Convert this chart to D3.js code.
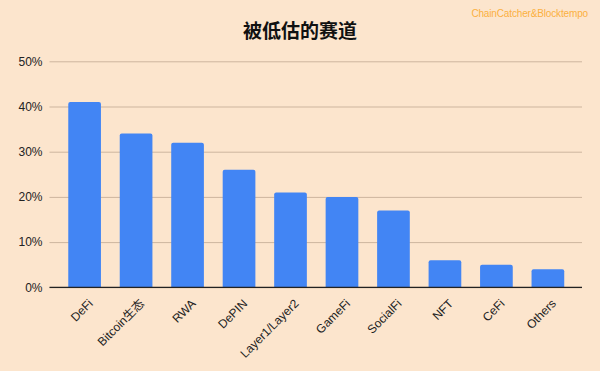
<!DOCTYPE html>
<html>
<head>
<meta charset="utf-8">
<script src="https://cdn.jsdelivr.net/npm/d3@7"></script>
<style>
  body { margin: 0; background: #fce5cd; }
  svg { display: block; }
</style>
</head>
<body>
<div id="chart"></div>
<script>
(function () {
  'use strict';

  var categories = ['DeFi', 'Bitcoin生态', 'RWA', 'DePIN', 'Layer1/Layer2', 'GameFi', 'SocialFi', 'NFT', 'CeFi', 'Others'];
  var values = [0.41, 0.34, 0.32, 0.26, 0.21, 0.20, 0.17, 0.06, 0.05, 0.04];
  var yTicks = [0, 0.1, 0.2, 0.3, 0.4, 0.5];
  var title = '被低估的赛道';
  var credit = 'ChainCatcher&Blocktempo';

  var width = 600,
      height = 371,
      plot = { left: 49.5, right: 582, top: 61.3, bottom: 287.3 };

  var svg = d3.select('#chart').append('svg')
    .attr('width', width)
    .attr('height', height);

  svg.append('rect')
    .attr('width', width)
    .attr('height', height)
    .attr('fill', '#fce5cd');

  var x = d3.scaleBand()
    .domain(categories)
    .range([59, 573.5])
    .paddingInner(0.365)
    .paddingOuter(0.18);

  var y = d3.scaleLinear()
    .domain([0, 0.5])
    .range([plot.bottom, plot.top]);

  // gridlines + y labels
  var yAxis = d3.axisLeft(y)
    .tickValues(yTicks)
    .tickFormat(d3.format('.0%'))
    .tickSize(-(plot.right - plot.left))
    .tickPadding(7);

  var gy = svg.append('g')
    .attr('transform', 'translate(' + plot.left + ',0)')
    .call(yAxis);
  gy.select('.domain').remove();
  gy.selectAll('line')
    .attr('stroke', '#cdb59e')
    .attr('stroke-width', 1);
  gy.selectAll('text')
    .attr('fill', '#222')
    .style('font-family', 'Liberation Sans, Arial, sans-serif')
    .style('font-size', '12px');

  // bars, rounded top corners
  var r = 2;
  svg.append('g').selectAll('path')
    .data(values)
    .enter().append('path')
    .attr('fill', '#4285f4')
    .attr('d', function (d, i) {
      var x0 = x(categories[i]), w = x.bandwidth(),
          y0 = y(d), y1 = y(0);
      return 'M' + x0 + ',' + y1 +
        'V' + (y0 + r) +
        'Q' + x0 + ',' + y0 + ' ' + (x0 + r) + ',' + y0 +
        'H' + (x0 + w - r) +
        'Q' + (x0 + w) + ',' + y0 + ' ' + (x0 + w) + ',' + (y0 + r) +
        'V' + y1 + 'Z';
    });

  // baseline
  svg.append('line')
    .attr('x1', plot.left)
    .attr('x2', plot.right)
    .attr('y1', y(0))
    .attr('y2', y(0))
    .attr('stroke', '#222')
    .attr('stroke-width', 1.3);

  // x labels
  var xAxis = d3.axisBottom(x).tickSize(0).tickPadding(0);
  var gx = svg.append('g')
    .attr('transform', 'translate(0,' + y(0) + ')')
    .call(xAxis);
  gx.select('.domain').remove();
  gx.selectAll('text')
    .attr('fill', '#222')
    .style('font-family', 'Liberation Sans, Arial, "Noto Sans CJK SC", sans-serif')
    .style('font-size', '12px')
    .style('text-anchor', 'end')
    .attr('dy', '0.35em')
    .attr('transform', 'translate(6,14) rotate(-45)');

  // title
  svg.append('text')
    .attr('x', 300)
    .attr('y', 38)
    .attr('text-anchor', 'middle')
    .attr('fill', '#111')
    .style('font-family', '"Noto Sans CJK SC", sans-serif')
    .style('font-size', '19px')
    .style('font-weight', 'bold')
    .text(title);

  svg.append('text')
    .attr('x', 588)
    .attr('y', 17)
    .attr('text-anchor', 'end')
    .attr('fill', '#fbb040')
    .style('font-family', 'Liberation Sans, Arial, sans-serif')
    .style('font-size', '10px')
    .style('letter-spacing', '-0.15px')
    .text(credit);
})();
</script>
</body>
</html>
